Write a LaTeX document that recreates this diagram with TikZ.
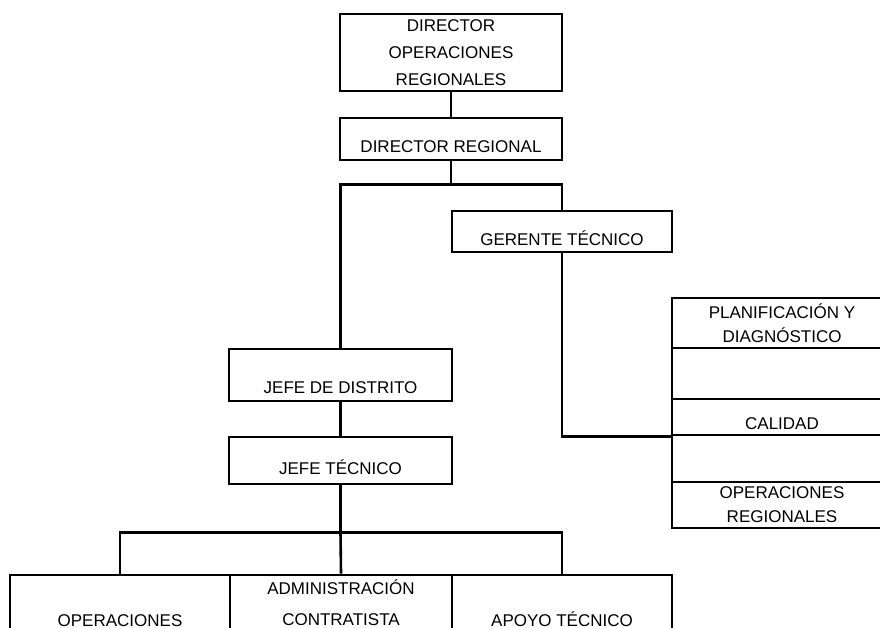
\documentclass[tikz,border=0pt]{standalone}
\usepackage{fontspec}
\setmainfont{Liberation Sans}

\begin{document}
\begin{tikzpicture}[x=1pt, y=1pt,
  box/.style={draw, line width=2.6pt, inner sep=0pt, align=center,
    minimum width=222pt, font=\fontsize{17}{27}\selectfont},
  sbox/.style={box, minimum width=220pt, font=\fontsize{17}{24}\selectfont},
  low/.style={text height=#1, text depth=0pt},
  lnk/.style={line width=2.6pt},
]
\useasboundingbox (0,0) rectangle (880,-628);
\clip (0,0) rectangle (880,-628);

% ── Top of the chart ──
\node[box, minimum height=77pt] (dor) at (451,-52.5)
  {DIRECTOR\\OPERACIONES\\REGIONALES};
\node[box, minimum height=42pt, low=28pt] (dr) at (451,-139)
  {DIRECTOR REGIONAL};
\node[box, minimum width=220pt, minimum height=41pt, low=29pt] (gt) at (562,-231.5)
  {GERENTE TÉCNICO};

% ── District line ──
\node[box, minimum width=223pt, minimum height=52pt, low=36pt] (jd) at (340.5,-375)
  {JEFE DE DISTRITO};
\node[box, minimum width=223pt, minimum height=47pt, low=27pt] (jt) at (340.5,-460.5)
  {JEFE TÉCNICO};

% ── Right column (cut at the page edge) ──
\node[sbox, minimum height=50pt] (pd) at (782,-323)
  {PLANIFICACIÓN Y\\DIAGNÓSTICO};
\node[sbox, minimum height=51pt] (e1) at (782,-373.5) {};
\node[sbox, minimum height=36pt, low=24pt] (cal) at (782,-417) {CALIDAD};
\node[sbox, minimum height=47pt] (e2) at (782,-458.5) {};
\node[sbox, minimum height=46pt] (opr) at (782,-505)
  {OPERACIONES\\REGIONALES};

% ── Bottom row (cut at the page edge) ──
\node[sbox, minimum height=90pt, low=12pt] (op) at (120,-620) {OPERACIONES};
\node[box, minimum height=56pt, font=\fontsize{17}{31}\selectfont] (ad) at (341,-603)
  {ADMINISTRACIÓN\\CONTRATISTA};
\node[sbox, minimum height=90pt, low=12pt] (ap) at (562,-620) {APOYO TÉCNICO};

% Connectors
\draw[lnk] (dor) -- (dr);
\draw[lnk] (dr.south) -- ++(0,-23) coordinate (j1);
\draw[lnk] (jd.north) |- (j1) -| (gt.north);
\draw[lnk] (gt.south) |- (cal.south west);
\draw[lnk] (jd) -- (jt);
\draw[lnk] (jt.south) -- ++(0,-47) coordinate (j2);
\draw[lnk] (op.north) |- (j2) -| (ap.north);
\draw[lnk] (j2) -- (ad.north);
\end{tikzpicture}
\end{document}
